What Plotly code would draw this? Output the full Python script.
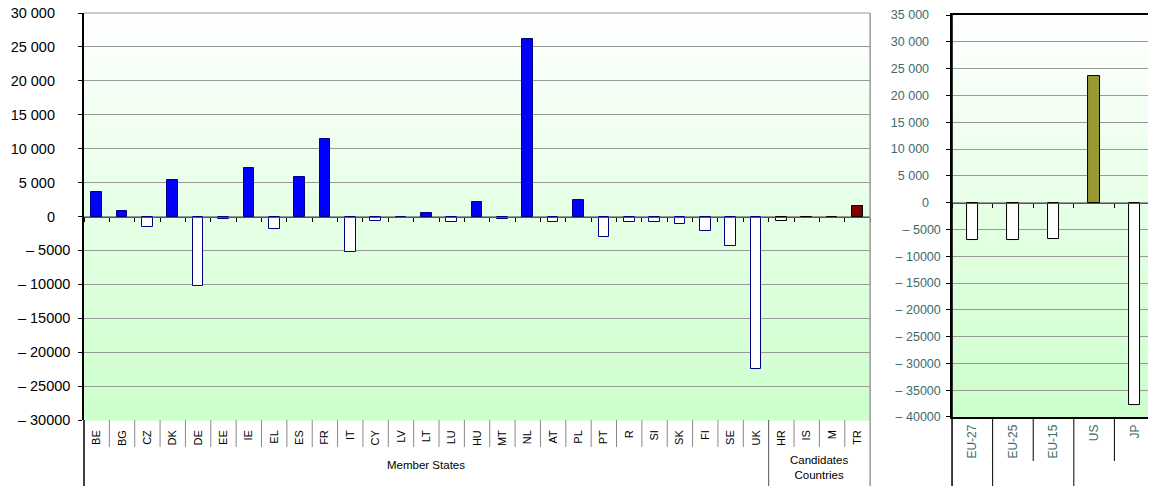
import plotly.graph_objects as go

# trade balance values
member_states = ["BE", "BG", "CZ", "DK", "DE", "EE", "IE", "EL", "ES", "FR", "IT", "CY", "LV", "LT",
                 "LU", "HU", "MT", "NL", "AT", "PL", "PT", "R", "SI", "SK", "FI", "SE", "UK"]
member_values = [3600, 800, -1550, 5400, -10200, -300, 7100, -1800, 5800, 11400, -5200, -700, -250, 550,
                 -850, 2100, -350, 26100, -750, 2400, -3050, -750, -750, -1050, -2100, -4300, -22500]

candidates = ["HR", "IS", "M", "TR"]
candidate_values = [-650, -200, 0, 1500]

world_labels = ["EU-27", "EU-25", "EU-15", "US", "JP"]
world_values = [-6900, -7000, -6800, 23600, -37700]

left_ticks = list(range(-30000, 30001, 5000))
right_ticks = list(range(-40000, 35001, 5000))

FONT = "Arial, Liberation Sans, sans-serif"
TEAL = "#3d6b6b"


def tick_text(v):
    if v < 0:
        return f"\u2013 {-v}"
    return f"{v:,}".replace(",", " ")


categories = member_states + candidates
values = member_values + candidate_values

fill = ["#0000ff" if v > 0 else "white" for v in member_values] + ["white", "#333333", "white", "#800000"]
outline = ["#000080"] * len(member_states) + ["black", "black", "black", "black"]

world_fill = ["#999933" if lab == "US" else "white" for lab in world_labels]

fig = go.Figure()

fig.add_trace(go.Bar(x=categories, y=values, width=0.42,
                     marker=dict(color=fill, line=dict(color=outline, width=1)),
                     showlegend=False))
# invisible traces to drive the helper axes (zero-line ticks, padded positive labels)
fig.add_trace(go.Scatter(x=categories, y=[0] * len(categories), xaxis="x3", yaxis="y",
                         mode="none", showlegend=False, hoverinfo="skip"))
fig.add_trace(go.Scatter(x=categories, y=[0] * len(categories), xaxis="x", yaxis="y3",
                         mode="none", showlegend=False, hoverinfo="skip"))

fig.add_trace(go.Bar(x=world_labels, y=world_values, width=0.28, xaxis="x2", yaxis="y2",
                     marker=dict(color=world_fill, line=dict(color="black", width=1)),
                     showlegend=False))
fig.add_trace(go.Scatter(x=world_labels, y=[0] * len(world_labels), xaxis="x4", yaxis="y2",
                         mode="none", showlegend=False, hoverinfo="skip"))
fig.add_trace(go.Scatter(x=world_labels, y=[0] * len(world_labels), xaxis="x2", yaxis="y4",
                         mode="none", showlegend=False, hoverinfo="skip"))

L_DOM = [0, 0.734]
R_DOM = [0.8105, 1]
R_YDOM = [0.0074, 0.995]
bottom = -66 / 407

shapes = []
# vertical gradient backgrounds
n = 60
for xr, yr in (("x domain", "y domain"), ("x2 domain", "y2 domain")):
    for i in range(n):
        t = (i + 0.5) / n
        g = int(255 - 51 * t)
        shapes.append(dict(type="rect", xref=xr, yref=yr, x0=0, x1=1,
                           y0=1 - i / n, y1=1 - (i + 1) / n - 0.002,
                           fillcolor=f"rgb({g},255,{g})", line=dict(width=0), layer="below"))

# category separators under the left chart
sep_short = -27 / 407
for i in range(1, len(categories)):
    long_line = i == len(member_states)
    shapes.append(dict(type="line", xref="x", yref="paper", x0=i - 0.5, x1=i - 0.5,
                       y0=0, y1=bottom if long_line else sep_short,
                       line=dict(color="#888888" if not long_line else "#555555", width=1)))
shapes.append(dict(type="line", xref="x domain", yref="paper", x0=0, x1=0, y0=0, y1=bottom,
                   line=dict(color="black", width=1.5)))
shapes.append(dict(type="line", xref="x domain", yref="paper", x0=1, x1=1, y0=1, y1=bottom,
                   line=dict(color="#999999", width=1.5)))
shapes.append(dict(type="line", xref="x domain", yref="y domain", x0=0, x1=1, y0=1, y1=1,
                   line=dict(color="#999999", width=1)))

# separators under the right chart
for i in range(1, len(world_labels)):
    long_line = i in (1, 3)
    shapes.append(dict(type="line", xref="x2", yref="paper", x0=i - 0.5, x1=i - 0.5,
                       y0=R_YDOM[0], y1=bottom if long_line else -41 / 407,
                       line=dict(color="black", width=1)))
shapes.append(dict(type="line", xref="x2 domain", yref="paper", x0=0, x1=0, y0=R_YDOM[1], y1=bottom,
                   line=dict(color="black", width=1.5)))

left_neg = [v for v in left_ticks if v < 0]
left_pos = [v for v in left_ticks if v >= 0]
right_neg = [v for v in right_ticks if v < 0]
right_pos = [v for v in right_ticks if v >= 0]

# the page body has an 8px margin, so the figure is 8px smaller and shifted
fig.update_layout(
    width=1148, height=478,
    margin=dict(l=76, r=1, t=5, b=66, autoexpand=False),
    paper_bgcolor="white", plot_bgcolor="rgba(0,0,0,0)",
    font=dict(family=FONT, color="black"),
    bargap=0,
    shapes=shapes,
    xaxis=dict(domain=L_DOM, anchor="y", type="category", tickangle=-90, showgrid=False,
               tickfont=dict(size=11), ticks="", showline=False, fixedrange=True, automargin=False,
               ticklabelstandoff=7),
    xaxis3=dict(overlaying="x", matches="x", anchor="free", position=0.5, type="category",
                showline=True, linecolor="#555555", linewidth=1, ticks="outside", ticklen=4,
                tickson="boundaries", tickcolor="black", showticklabels=False, showgrid=False,
                automargin=False),
    # main left axis: grid, ticks and negative labels
    yaxis=dict(domain=[0, 1], anchor="x", range=[-30000, 30000], tickvals=left_ticks,
               ticktext=[tick_text(v) if v < 0 else "" for v in left_ticks], tickfont=dict(size=14.5),
               gridcolor="#999999", gridwidth=1, zeroline=False, showline=True, linecolor="black",
               linewidth=1.5, ticks="outside", ticklen=4, tickcolor="black", automargin=False,
               ticklabelstandoff=5, ticklabeloverflow="allow"),
    # overlay axis carrying the positive labels, set further left as in the source
    yaxis3=dict(overlaying="y", matches="y", anchor="x", side="left", range=[-30000, 30000],
                tickvals=left_pos, ticktext=[tick_text(v) for v in left_pos], tickfont=dict(size=14.5),
                showgrid=False, zeroline=False, showline=False, ticks="", automargin=False,
                ticklabelstandoff=28, ticklabeloverflow="allow"),
    xaxis2=dict(domain=R_DOM, anchor="y2", type="category", tickangle=-90, showgrid=False,
                tickfont=dict(size=12, color=TEAL), ticks="", showline=True, linecolor="black",
                linewidth=1.5, mirror=True, automargin=False, ticklabelstandoff=1),
    xaxis4=dict(overlaying="x2", matches="x2", anchor="free",
                position=R_YDOM[0] + (40000 / 75000) * (R_YDOM[1] - R_YDOM[0]),
                type="category", showline=True, linecolor="#555555", linewidth=1, ticks="outside",
                ticklen=4, tickson="boundaries", tickcolor="black", showticklabels=False, showgrid=False,
                automargin=False),
    yaxis2=dict(domain=R_YDOM, anchor="x2", range=[-40000, 35000], tickvals=right_ticks,
                ticktext=[tick_text(v) if v < 0 else "" for v in right_ticks],
                tickfont=dict(size=12.5, color=TEAL),
                gridcolor="#999999", gridwidth=1, zeroline=False, showline=True, linecolor="black",
                linewidth=1.5, ticks="outside", ticklen=4, tickcolor="black", automargin=False,
                ticklabelstandoff=3, ticklabeloverflow="allow"),
    yaxis4=dict(overlaying="y2", matches="y2", anchor="x2", side="left", range=[-40000, 35000],
                tickvals=right_pos, ticktext=[tick_text(v) for v in right_pos],
                tickfont=dict(size=12.5, color=TEAL),
                showgrid=False, zeroline=False, showline=False, ticks="", automargin=False,
                ticklabelstandoff=22, ticklabeloverflow="allow"),
    annotations=[
        dict(text="Member States", xref="x", yref="paper", x=(len(member_states) - 1) / 2, y=-45 / 407,
             yanchor="middle", showarrow=False, font=dict(size=11.5)),
        dict(text="Candidates<br>Countries", xref="x", yref="paper",
             x=len(member_states) + (len(candidates) - 1) / 2, y=-47 / 407,
             yanchor="middle", showarrow=False, font=dict(size=11.5)),
    ],
)

fig.write_html("out.html")
